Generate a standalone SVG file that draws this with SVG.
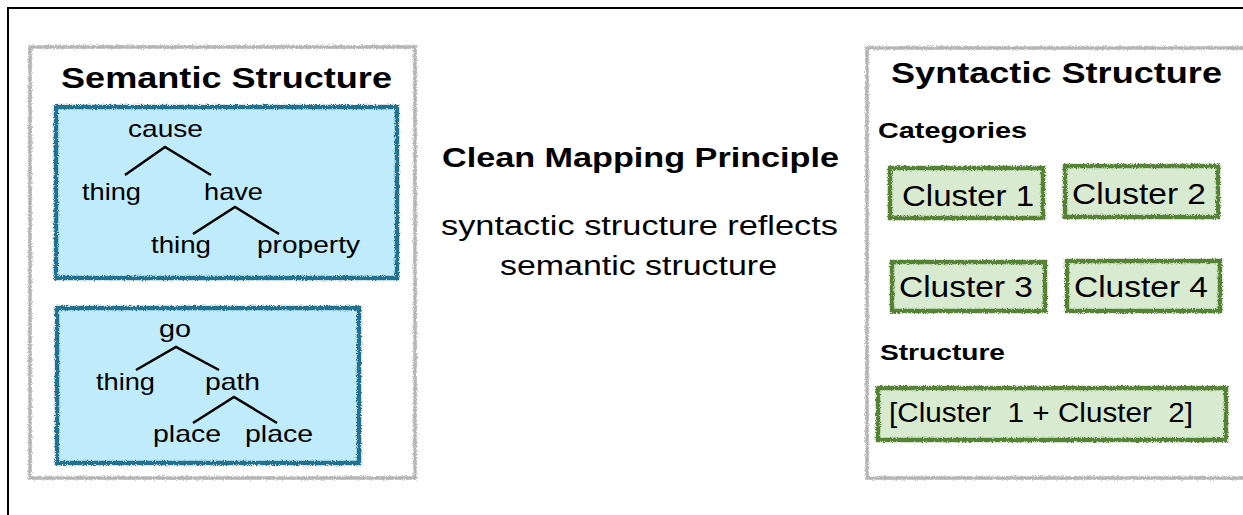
<svg xmlns="http://www.w3.org/2000/svg" width="1243" height="515" viewBox="0 0 1243 515">
<style>
text{font-family:"Liberation Sans",Arial,sans-serif;fill:#000}
.h{font-weight:bold;font-size:30px}
.sub{font-weight:bold;font-size:22px}
.t{font-size:24px}
.c{font-size:29px}
.m{font-size:27px}
.gray{fill:#fff;stroke:#b4b4b4;stroke-width:3.5}
.blue{fill:#c0ebfb;stroke:#22718f;stroke-width:4.5}
.green{fill:#d8ead0;stroke:#548235;stroke-width:4.5}
.edge{stroke:#000;stroke-width:2.5;fill:none}
</style>
<defs>
<filter id="rough" x="-5%" y="-5%" width="110%" height="110%">
<feTurbulence type="fractalNoise" baseFrequency="1.1" numOctaves="2" seed="5" result="n"/>
<feDisplacementMap in="SourceGraphic" in2="n" scale="4" xChannelSelector="R" yChannelSelector="G"/>
</filter>
</defs>
<rect width="1243" height="515" fill="#fff"/>
<rect x="8" y="8" width="1250" height="520" fill="none" stroke="#000" stroke-width="2"/>

<g id="semantic">
<rect class="gray" x="30" y="47" width="385" height="431" filter="url(#rough)"/>
<text class="h" x="61" y="88" textLength="331" lengthAdjust="spacingAndGlyphs">Semantic Structure</text>
</g>
<g id="tree1">
<rect class="blue" x="56" y="107" width="341" height="171" filter="url(#rough)"/>
<text class="t" x="128" y="137" textLength="75" lengthAdjust="spacingAndGlyphs">cause</text>
<text class="t" x="82" y="200" textLength="59" lengthAdjust="spacingAndGlyphs">thing</text>
<text class="t" x="204" y="200" textLength="59" lengthAdjust="spacingAndGlyphs">have</text>
<text class="t" x="151" y="253" textLength="60" lengthAdjust="spacingAndGlyphs">thing</text>
<text class="t" x="257" y="253" textLength="103" lengthAdjust="spacingAndGlyphs">property</text>
</g>
<g id="tree2">
<rect class="blue" x="57" y="308" width="302" height="155" filter="url(#rough)"/>
<text class="t" x="159" y="337" textLength="32" lengthAdjust="spacingAndGlyphs">go</text>
<text class="t" x="96" y="390" textLength="59" lengthAdjust="spacingAndGlyphs">thing</text>
<text class="t" x="205" y="390" textLength="55" lengthAdjust="spacingAndGlyphs">path</text>
<text class="t" x="153" y="442" textLength="68" lengthAdjust="spacingAndGlyphs">place</text>
<text class="t" x="245" y="442" textLength="68" lengthAdjust="spacingAndGlyphs">place</text>
</g>
<g id="principle">
<text class="h" x="442" y="167" style="font-size:27px" textLength="397" lengthAdjust="spacingAndGlyphs">Clean Mapping Principle</text>
<text class="m" x="441" y="235" textLength="397" lengthAdjust="spacingAndGlyphs">syntactic structure reflects</text>
<text class="m" x="500" y="275" textLength="277" lengthAdjust="spacingAndGlyphs">semantic structure</text>
</g>
<g id="syntactic">
<rect class="gray" x="867" y="48" width="390" height="430" filter="url(#rough)"/>
<text class="h" x="891" y="83" textLength="331" lengthAdjust="spacingAndGlyphs">Syntactic Structure</text>
<text class="sub" x="878" y="138" textLength="149" lengthAdjust="spacingAndGlyphs">Categories</text>
<text class="sub" x="880" y="360" textLength="125" lengthAdjust="spacingAndGlyphs">Structure</text>
</g>
<g id="cluster1">
<rect class="green" x="890" y="168" width="153" height="50" filter="url(#rough)"/>
<text class="c" x="902" y="206" textLength="132" lengthAdjust="spacingAndGlyphs">Cluster 1</text>
</g>
<g id="cluster2">
<rect class="green" x="1065" y="166" width="153" height="51" filter="url(#rough)"/>
<text class="c" x="1072" y="204" textLength="134" lengthAdjust="spacingAndGlyphs">Cluster 2</text>
</g>
<g id="cluster3">
<rect class="green" x="892" y="262" width="153" height="49" filter="url(#rough)"/>
<text class="c" x="899" y="297" textLength="134" lengthAdjust="spacingAndGlyphs">Cluster 3</text>
</g>
<g id="cluster4">
<rect class="green" x="1067" y="261" width="153" height="50" filter="url(#rough)"/>
<text class="c" x="1074" y="297" textLength="134" lengthAdjust="spacingAndGlyphs">Cluster 4</text>
</g>
<g id="structure">
<rect class="green" x="878" y="388" width="348" height="52" filter="url(#rough)"/>
<text class="c" x="889" y="422" style="font-size:27px;white-space:pre" xml:space="preserve" textLength="304" lengthAdjust="spacingAndGlyphs">[Cluster  1 + Cluster  2]</text>
</g>
<g id="connectors">
<path class="edge" d="M125,175 L165,147 L211,175"/>
<path class="edge" d="M193,234 L235,207 L279,234"/>
<path class="edge" d="M136,370 L176,347 L219,370"/>
<path class="edge" d="M193,423 L234,397 L277,423"/>
</g>
</svg>
